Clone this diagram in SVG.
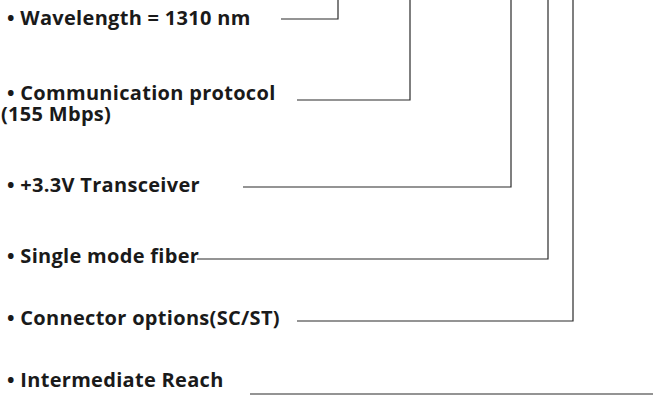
<svg xmlns="http://www.w3.org/2000/svg" width="653" height="398" viewBox="0 0 653 398">
<style>
text{font-family:"Open Sans","Noto Sans","Liberation Sans",sans-serif;font-weight:bold;font-size:20px;letter-spacing:0.3px;fill:#1a1a1a}
.c{fill:none;stroke:#2b2b2b;stroke-width:1.2}
</style>
<rect width="653" height="398" fill="#fff"/>
<g id="n1"><text x="7" y="25">• Wavelength = 1310 nm</text></g>
<g id="n2"><text x="7" y="100">• Communication protocol</text><text x="1" y="121">(155 Mbps)</text></g>
<g id="n3"><text x="7" y="192">• +3.3V Transceiver</text></g>
<g id="n4"><text x="7" y="263">• Single mode fiber</text></g>
<g id="n5"><text x="7" y="325">• Connector options(SC/ST)</text></g>
<g id="n6"><text x="7" y="387">• Intermediate Reach</text></g>
<g id="connectors">
<polyline class="c" points="281,19 338,19 338,0"/>
<polyline class="c" points="297,100 410,100 410,0"/>
<polyline class="c" points="243,187 511,187 511,0"/>
<polyline class="c" points="197,259 548,259 548,0"/>
<polyline class="c" points="297,321 573,321 573,0"/>
<polyline class="c" points="250,394 653,394"/>
</g>
</svg>
